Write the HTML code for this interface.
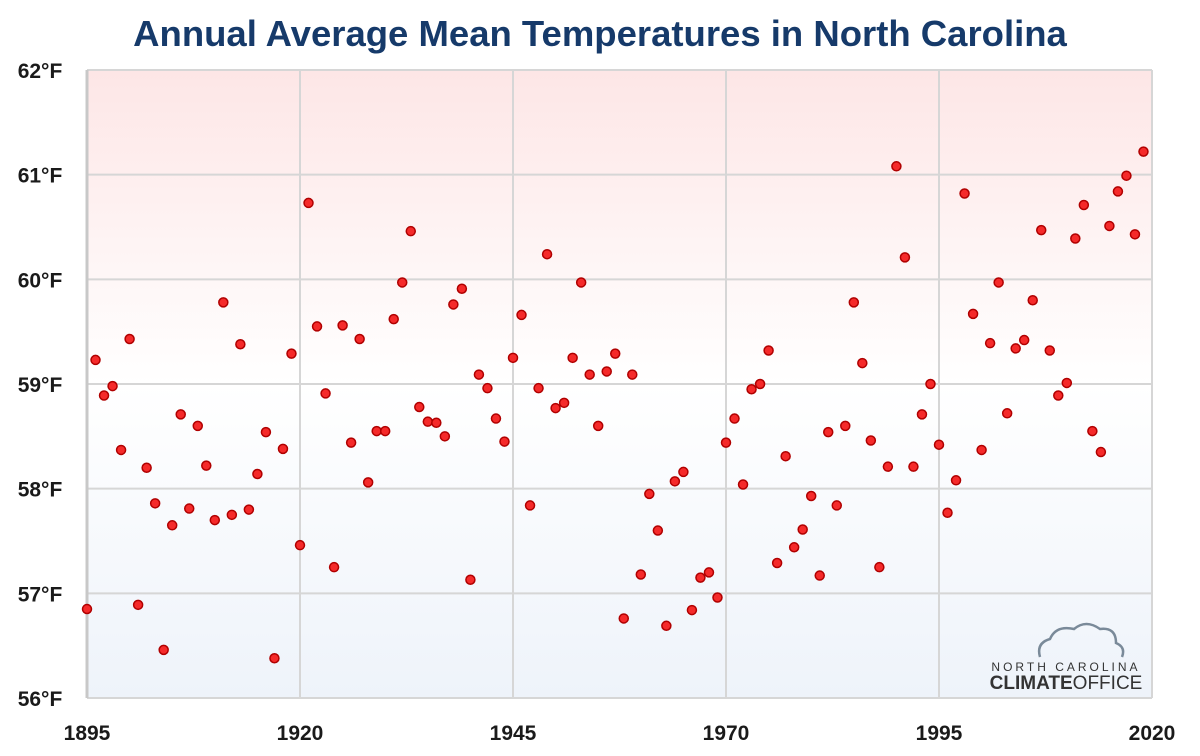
<!DOCTYPE html>
<html><head><meta charset="utf-8"><style>
body{margin:0;background:#fff;font-family:"Liberation Sans",sans-serif}
svg{display:block}
</style></head><body>
<svg id="chart" width="1200" height="756">
<defs>
<linearGradient id="bg" x1="0" y1="0" x2="0" y2="1">
<stop offset="0" stop-color="#fde6e6"/><stop offset="0.5" stop-color="#ffffff"/><stop offset="1" stop-color="#eef3fa"/>
</linearGradient>
</defs>
<text x="600" y="46" text-anchor="middle" font-size="36.5" font-weight="bold" fill="#163a6a">Annual Average Mean Temperatures in North Carolina</text>
<rect x="87" y="70" width="1065" height="628" fill="url(#bg)"/>
<g id="grid"></g>
<g id="pts"></g>
<g>
<path d="M1040 657 q-4 -14 10 -18 q6 -14 24 -10 q12 -10 26 0 q16 -2 16 14 q10 4 6 14" fill="none" stroke="#7a8a99" stroke-width="2.5"/>
<text x="1066" y="671" text-anchor="middle" font-size="12" letter-spacing="3" fill="#333">NORTH CAROLINA</text>
<text x="1066" y="689" text-anchor="middle" font-size="19" fill="#333"><tspan font-weight="bold">CLIMATE</tspan>OFFICE</text>
</g>
</svg>
<script>
const years=[];for(let y=1895;y<=2019;y++)years.push(y);
const temps=[56.85,59.23,58.89,58.98,58.37,59.43,56.89,58.20,57.86,56.46,57.65,58.71,57.81,58.60,58.22,57.70,59.78,57.75,59.38,57.80,58.14,58.54,56.38,58.38,59.29,57.46,60.73,59.55,58.91,57.25,59.56,58.44,59.43,58.06,58.55,58.55,59.62,59.97,60.46,58.78,58.64,58.63,58.50,59.76,59.91,57.13,59.09,58.96,58.67,58.45,59.25,59.66,57.84,58.96,60.24,58.77,58.82,59.25,59.97,59.09,58.60,59.12,59.29,56.76,59.09,57.18,57.95,57.60,56.69,58.07,58.16,56.84,57.15,57.20,56.96,58.44,58.67,58.04,58.95,59.00,59.32,57.29,58.31,57.44,57.61,57.93,57.17,58.54,57.84,58.60,59.78,59.20,58.46,57.25,58.21,61.08,60.21,58.21,58.71,59.00,58.42,57.77,58.08,60.82,59.67,58.37,59.39,59.97,58.72,59.34,59.42,59.80,60.47,59.32,58.89,59.01,60.39,60.71,58.55,58.35,60.51,60.84,60.99,60.43,61.22];
const yTicks=[56,57,58,59,60,61,62];
const xTicks=[1895,1920,1945,1970,1995,2020];
const NS="http://www.w3.org/2000/svg";
const X=v=>87+(v-1895)*(1065/125);
const Y=v=>698-(v-56)*(628/6);
const grid=document.getElementById('grid'),pts=document.getElementById('pts'),svg=document.getElementById('chart');
function mk(t,a,p){const e=document.createElementNS(NS,t);for(const k in a)e.setAttribute(k,a[k]);p.appendChild(e);return e;}
yTicks.forEach(v=>{
 const l=mk('line',{x1:87,x2:1152,y1:Y(v),y2:Y(v),stroke:'#d6d6d6','stroke-width':2},grid);
 
 
 const t=mk('text',{x:40,y:Y(v)+8,'text-anchor':'middle','font-size':21,'font-weight':'bold',fill:'#1a1a1a'},svg);
 t.textContent=v+'°F';
 
 
});
xTicks.forEach(v=>{
 const l=mk('line',{x1:X(v),x2:X(v),y1:70,y2:698,stroke:'#d6d6d6','stroke-width':2},grid);
 
 
 const t=mk('text',{x:X(v),y:740,'text-anchor':'middle','font-size':21,'font-weight':'bold',fill:'#1a1a1a'},svg);
 t.textContent=v;
 
 
});
const ax=mk('line',{x1:87,x2:87,y1:70,y2:698,stroke:'#c8c8c8','stroke-width':3},grid);


const ax2=mk('line',{x1:1152,x2:1152,y1:70,y2:698,stroke:'#d6d6d6','stroke-width':2},grid);


years.forEach((yr,i)=>{
 const c=mk('circle',{cx:X(yr),cy:Y(temps[i]),r:4.5,fill:'#f52a2a',stroke:'#b00000','stroke-width':1.5},pts);
 
 
});
</script>
</body></html>
